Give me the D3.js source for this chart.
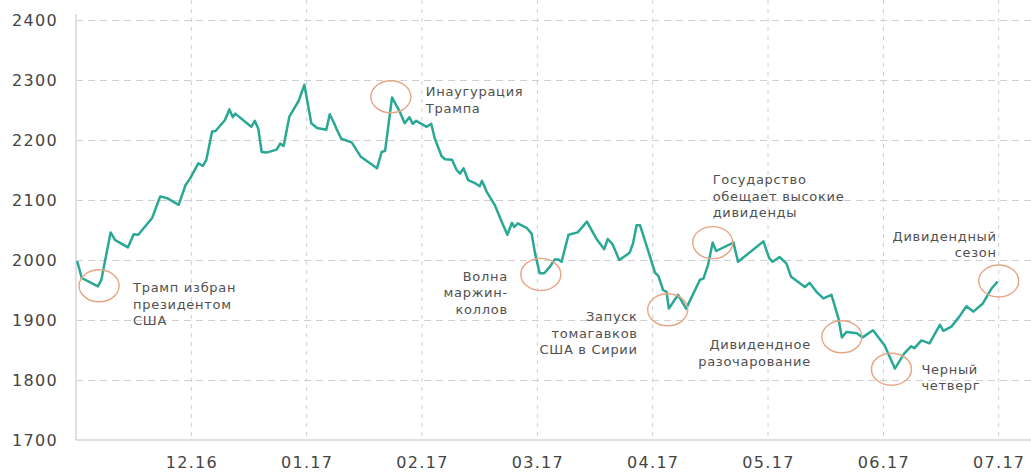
<!DOCTYPE html>
<html>
<head>
<meta charset="utf-8">
<script src="https://cdn.jsdelivr.net/npm/d3@7/dist/d3.min.js"></script>
<style>
  html, body { margin: 0; padding: 0; background: #fff; }
  svg { display: block; }
  .axis text { font-family: "DejaVu Sans", sans-serif; fill: #444; }
  .note { font-family: "DejaVu Sans", sans-serif; font-size: 13px; fill: #505050; letter-spacing: 0.7px; }
</style>
</head>
<body>
<svg id="chart" width="1031" height="472"></svg>
<script>
(function () {
// ── Data ──────────────────────────────────────────────────────────────────
// position in months counted from the start of 11.16, index value
const MONTHS = [0.01, 0.05, 0.19, 0.22, 0.30, 0.34, 0.45, 0.50, 0.54, 0.66, 0.73, 0.79, 0.89, 0.95, 0.99,
  1.06, 1.10, 1.13, 1.18, 1.21, 1.29, 1.33, 1.36, 1.38, 1.52, 1.55, 1.58, 1.61, 1.65, 1.74, 1.77, 1.80,
  1.85, 1.93, 1.98, 2.04, 2.09, 2.17, 2.20, 2.24, 2.26, 2.30, 2.39, 2.47, 2.61, 2.65, 2.68, 2.74, 2.81,
  2.85, 2.89, 2.92, 2.95, 3.04, 3.08, 3.11, 3.17, 3.20, 3.26, 3.30, 3.33, 3.36, 3.40, 3.46, 3.50, 3.52,
  3.56, 3.63, 3.69, 3.74, 3.78, 3.80, 3.83, 3.91, 3.95, 3.98, 4.02, 4.06, 4.11, 4.15, 4.18, 4.21, 4.27,
  4.35, 4.43, 4.51, 4.58, 4.61, 4.65, 4.71, 4.80, 4.83, 4.86, 4.89, 4.95, 5.02, 5.05, 5.09, 5.12, 5.14,
  5.22, 5.29, 5.41, 5.44, 5.48, 5.52, 5.55, 5.70, 5.74, 5.96, 6.01, 6.04, 6.10, 6.16, 6.20, 6.32, 6.36,
  6.42, 6.48, 6.55, 6.61, 6.64, 6.68, 6.77, 6.82, 6.91, 7.01, 7.10, 7.18, 7.24, 7.27, 7.33, 7.40, 7.49,
  7.52, 7.59, 7.66, 7.72, 7.78, 7.86, 7.94, 7.99];

const VALUES = [1998, 1970, 1956, 1967, 2046, 2033, 2021, 2043, 2042, 2070, 2106, 2103, 2092, 2125, 2136,
  2161, 2157, 2167, 2214, 2215, 2233, 2251, 2238, 2244, 2222, 2232, 2219, 2180, 2179, 2184, 2194, 2190,
  2239, 2265, 2292, 2228, 2220, 2217, 2243, 2227, 2218, 2202, 2196, 2172, 2153, 2180, 2182, 2271, 2246,
  2228, 2238, 2227, 2232, 2222, 2227, 2203, 2173, 2168, 2167, 2150, 2144, 2153, 2133, 2128, 2123, 2132,
  2114, 2092, 2064, 2042, 2062, 2055, 2061, 2053, 2044, 2011, 1978, 1978, 1989, 2001, 2001, 1997, 2042,
  2046, 2064, 2036, 2018, 2035, 2027, 2000, 2012, 2028, 2058, 2058, 2022, 1979, 1973, 1950, 1947, 1919,
  1942, 1919, 1967, 1969, 1992, 2029, 2015, 2029, 1997, 2031, 2003, 1997, 2005, 1994, 1972, 1955, 1962,
  1947, 1936, 1942, 1903, 1871, 1880, 1878, 1871, 1883, 1858, 1819, 1844, 1856, 1853, 1866, 1861, 1892,
  1882, 1889, 1906, 1923, 1914, 1927, 1953, 1964];

const X_TICKS  = [1, 2, 3, 4, 5, 6, 7, 8];
const X_LABELS = ['12.16', '01.17', '02.17', '03.17', '04.17', '05.17', '06.17', '07.17'];
const Y_TICKS  = [1700, 1800, 1900, 2000, 2100, 2200, 2300, 2400];

// events: where the circle sits (month, value) and the caption lines
const EVENT_MONTHS = [0.20, 2.73, 4.03, 5.13, 5.52, 6.64, 7.07, 8.00];
const EVENT_VALUES = [1957, 2272, 1976, 1917, 2029, 1872, 1818, 1965];
const EVENT_TEXTS = [
  ['Трамп избран', 'президентом', 'США'],
  ['Инаугурация', 'Трампа'],
  ['Волна', 'маржин-', 'коллов'],
  ['Запуск', 'томагавков', 'США в Сирии'],
  ['Государство', 'обещает высокие', 'дивиденды'],
  ['Дивидендное', 'разочарование'],
  ['Черный', 'четверг'],
  ['Дивидендный', 'сезон']
];
// caption placement relative to the circle (px) and alignment
const EVENT_LAYOUT = [
  { dx: 34,  dy: 2,    anchor: 'start' },
  { dx: 35,  dy: -5,   anchor: 'start' },
  { dx: -33, dy: 2,    anchor: 'end' },
  { dx: -30, dy: 7,    anchor: 'end' },
  { dx: 0,   dy: -63,  anchor: 'start' },
  { dx: -31, dy: 8,    anchor: 'end' },
  { dx: 30,  dy: 0,    anchor: 'start' },
  { dx: -2,  dy: -45,  anchor: 'end' }
];

// ── Chart ─────────────────────────────────────────────────────────────────
const M = { left: 76, right: 1031, top: 20, bottom: 440 };

const svg = d3.select('#chart');

const x = d3.scaleLinear().domain([0, 8.28]).range([M.left, M.right]);
const y = d3.scaleLinear().domain([1700, 2400]).range([M.bottom, M.top]);

// horizontal grid
svg.append('g')
  .attr('transform', 'translate(' + M.left + ',0)')
  .call(d3.axisLeft(y).tickValues(Y_TICKS.slice(1)).tickSize(-(M.right - M.left)).tickFormat(''))
  .call(function (g) {
    g.select('.domain').remove();
    g.selectAll('line').attr('stroke', '#cfcfcf').attr('stroke-width', 1).attr('stroke-dasharray', '7,5');
  });

// vertical grid
svg.append('g')
  .selectAll('line')
  .data(X_TICKS)
  .join('line')
  .attr('x1', function (d) { return x(d); })
  .attr('x2', function (d) { return x(d); })
  .attr('y1', 0)
  .attr('y2', M.bottom)
  .attr('stroke', '#cfcfcf')
  .attr('stroke-width', 1)
  .attr('stroke-dasharray', '4,5');

// axis lines
svg.append('line')
  .attr('x1', M.left).attr('x2', M.left).attr('y1', M.top - 6).attr('y2', M.bottom)
  .attr('stroke', '#d6d6d6').attr('stroke-width', 1.5);
svg.append('line')
  .attr('x1', M.left).attr('x2', M.right).attr('y1', M.bottom).attr('y2', M.bottom)
  .attr('stroke', '#d6d6d6').attr('stroke-width', 1.5);

// y labels
svg.append('g')
  .attr('class', 'axis')
  .attr('transform', 'translate(' + M.left + ',0)')
  .call(d3.axisLeft(y).tickValues(Y_TICKS).tickSize(0).tickPadding(18).tickFormat(d3.format('d')))
  .call(function (g) {
    g.select('.domain').remove();
    g.selectAll('text').attr('font-size', 16).attr('letter-spacing', 1.3);
  });

// x labels
svg.append('g')
  .attr('class', 'axis')
  .attr('transform', 'translate(0,' + M.bottom + ')')
  .call(d3.axisBottom(x).tickValues(X_TICKS).tickSize(0).tickPadding(17)
    .tickFormat(function (d, i) { return X_LABELS[i]; }))
  .call(function (g) {
    g.select('.domain').remove();
    g.selectAll('text').attr('font-size', 16).attr('letter-spacing', 1.3);
  });

// the index line
const line = d3.line()
  .x(function (d, i) { return x(MONTHS[i]); })
  .y(function (d) { return y(d); });

svg.append('path')
  .datum(VALUES)
  .attr('fill', 'none')
  .attr('stroke', '#2aa896')
  .attr('stroke-width', 2.5)
  .attr('stroke-linejoin', 'round')
  .attr('d', line);

// event circles + captions
const ev = svg.append('g')
  .selectAll('g')
  .data(EVENT_TEXTS)
  .join('g')
  .attr('transform', function (d, i) {
    return 'translate(' + x(EVENT_MONTHS[i]) + ',' + y(EVENT_VALUES[i]) + ')';
  });

ev.append('ellipse')
  .attr('rx', 20)
  .attr('ry', 16)
  .attr('fill', 'none')
  .attr('stroke', '#e6a584')
  .attr('stroke-width', 1.4);

ev.append('text')
  .attr('class', 'note')
  .attr('text-anchor', function (d, i) { return EVENT_LAYOUT[i].anchor; })
  .attr('transform', function (d, i) {
    return 'translate(' + EVENT_LAYOUT[i].dx + ',' + EVENT_LAYOUT[i].dy + ')';
  })
  .selectAll('tspan')
  .data(function (d) { return d; })
  .join('tspan')
  .attr('x', 0)
  .attr('dy', function (d, j) { return j === 0 ? '0.35em' : '16.5'; })
  .text(function (d) { return d; });
})();
</script>
</body>
</html>
